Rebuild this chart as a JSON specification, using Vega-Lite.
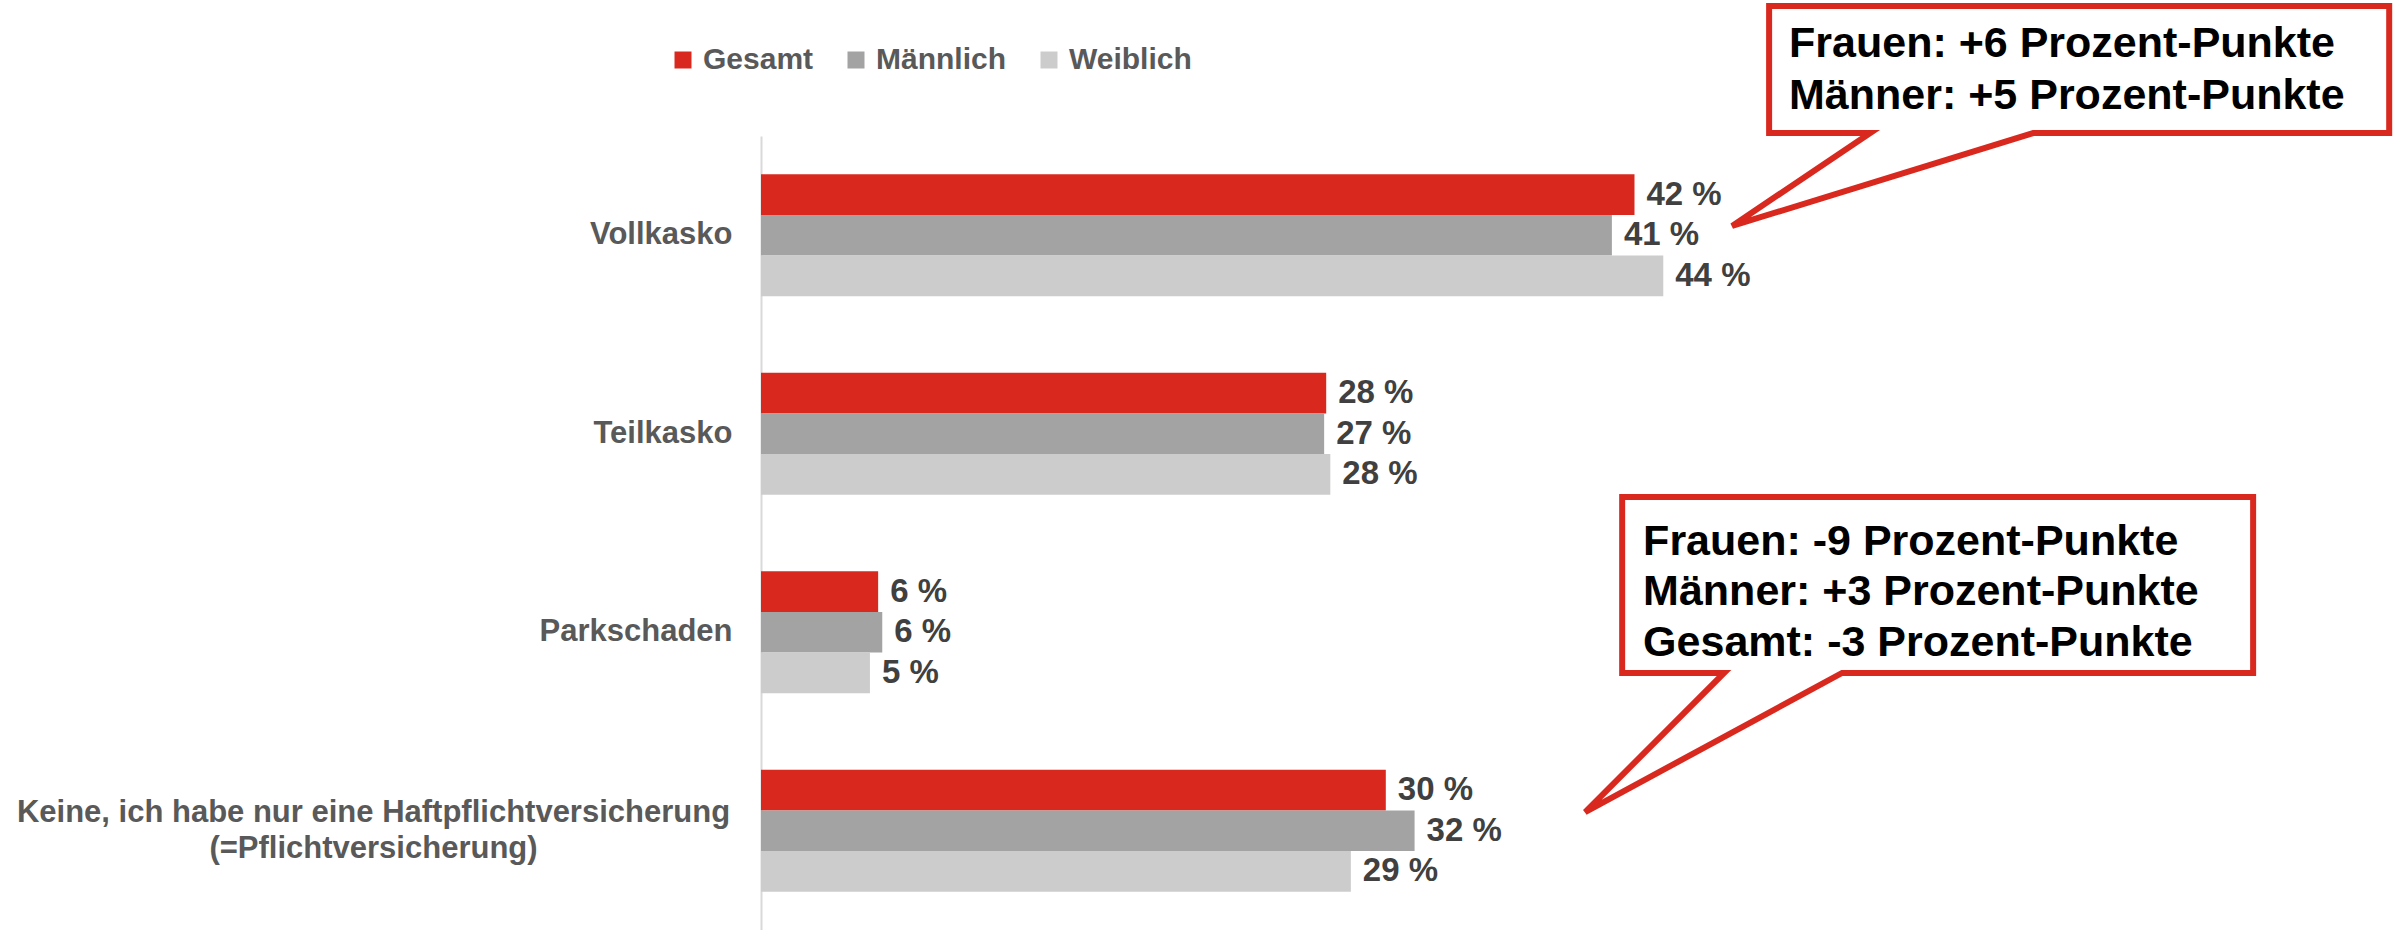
{
  "$schema": "https://vega.github.io/schema/vega-lite/v6.json",
  "autosize": {"type": "none"},
  "width": 1636,
  "height": 794,
  "padding": {"left": 761, "top": 136, "right": 0, "bottom": 0},
  "background": "white",
  "config": {"view": {"stroke": null}, "font": "Liberation Sans"},
  "datasets": {
    "bars": [
      {"category": "Vollkasko", "series": "Gesamt", "value": 42.5, "label": "42 %"},
      {"category": "Vollkasko", "series": "Männlich", "value": 41.4, "label": "41 %"},
      {"category": "Vollkasko", "series": "Weiblich", "value": 43.9, "label": "44 %"},
      {"category": "Teilkasko", "series": "Gesamt", "value": 27.5, "label": "28 %"},
      {"category": "Teilkasko", "series": "Männlich", "value": 27.4, "label": "27 %"},
      {"category": "Teilkasko", "series": "Weiblich", "value": 27.7, "label": "28 %"},
      {"category": "Parkschaden", "series": "Gesamt", "value": 5.7, "label": "6 %"},
      {"category": "Parkschaden", "series": "Männlich", "value": 5.9, "label": "6 %"},
      {"category": "Parkschaden", "series": "Weiblich", "value": 5.3, "label": "5 %"},
      {"category": "Keine, ich habe nur eine Haftpflichtversicherung (=Pflichtversicherung)", "series": "Gesamt", "value": 30.4, "label": "30 %"},
      {"category": "Keine, ich habe nur eine Haftpflichtversicherung (=Pflichtversicherung)", "series": "Männlich", "value": 31.8, "label": "32 %"},
      {"category": "Keine, ich habe nur eine Haftpflichtversicherung (=Pflichtversicherung)", "series": "Weiblich", "value": 28.7, "label": "29 %"}
    ],
    "callouts": [
      {"id": "c1", "ord": 1, "ax": 49.05, "ay": -0.655},
      {"id": "c1", "ord": 2, "ax": 79.22, "ay": -0.655},
      {"id": "c1", "ord": 3, "ax": 79.22, "ay": -0.015},
      {"id": "c1", "ord": 4, "ax": 61.9, "ay": -0.015},
      {"id": "c1", "ord": 5, "ax": 47.25, "ay": 0.453},
      {"id": "c1", "ord": 6, "ax": 53.97, "ay": -0.015},
      {"id": "c1", "ord": 7, "ax": 49.05, "ay": -0.015},
      {"id": "c1", "ord": 8, "ax": 49.05, "ay": -0.655},
      {"id": "c2", "ord": 1, "ax": 41.9, "ay": 1.819},
      {"id": "c2", "ord": 2, "ax": 72.6, "ay": 1.819},
      {"id": "c2", "ord": 3, "ax": 72.6, "ay": 2.705},
      {"id": "c2", "ord": 4, "ax": 52.6, "ay": 2.705},
      {"id": "c2", "ord": 5, "ax": 40.1, "ay": 3.406},
      {"id": "c2", "ord": 6, "ax": 46.86, "ay": 2.705},
      {"id": "c2", "ord": 7, "ax": 41.9, "ay": 2.705},
      {"id": "c2", "ord": 8, "ax": 41.9, "ay": 1.819}
    ],
    "callouttext": [
      {"text": "Frauen: +6 Prozent-Punkte", "ax": 50.02, "ay": -0.398},
      {"text": "Männer: +5 Prozent-Punkte", "ax": 50.02, "ay": -0.136},
      {"text": "Frauen: -9 Prozent-Punkte", "ax": 42.92, "ay": 2.111},
      {"text": "Männer: +3 Prozent-Punkte", "ax": 42.92, "ay": 2.363},
      {"text": "Gesamt: -3 Prozent-Punkte", "ax": 42.92, "ay": 2.62}
    ]
  },
  "layer": [
    {
      "data": {"name": "bars"},
      "encoding": {
        "y": {
          "field": "category",
          "type": "nominal",
          "sort": null,
          "title": null,
          "scale": {"paddingInner": 0.385, "paddingOuter": 0.1925},
          "axis": {
            "domain": true,
            "domainColor": "#D9D9D9",
            "domainWidth": 2,
            "ticks": false,
            "grid": false,
            "labelFont": "Liberation Sans",
            "labelFontSize": 31,
            "labelFontWeight": "bold",
            "labelColor": "#595959",
            "labelLimit": 1000,
            "labelOverlap": false,
            "labelLineHeight": 36,
            "labelAlign": {"condition": {"test": "indexof(datum.value, 'Keine') == 0", "value": "center"}, "value": "right"},
            "labelPadding": {"condition": {"test": "indexof(datum.value, 'Keine') == 0", "value": 388}, "value": 29},
            "labelOffset": {"condition": {"test": "indexof(datum.value, 'Keine') == 0", "value": -18}, "value": 0},
            "labelExpr": "indexof(datum.value, 'Keine') == 0 ? ['Keine, ich habe nur eine Haftpflichtversicherung', '(=Pflichtversicherung)'] : datum.label"
          }
        },
        "yOffset": {
          "field": "series",
          "type": "nominal",
          "sort": ["Gesamt", "Männlich", "Weiblich"],
          "scale": {"paddingInner": 0, "paddingOuter": 0}
        },
        "x": {
          "field": "value",
          "type": "quantitative",
          "axis": null,
          "scale": {"domain": [0, 79.6], "nice": false, "zero": true}
        }
      },
      "layer": [
        {
          "mark": {"type": "bar"},
          "encoding": {
            "color": {
              "field": "series",
              "type": "nominal",
              "sort": ["Gesamt", "Männlich", "Weiblich"],
              "scale": {"domain": ["Gesamt", "Männlich", "Weiblich"], "range": ["#D9291F", "#A3A3A3", "#CCCCCC"]},
              "legend": {
                "title": null,
                "orient": "none",
                "direction": "horizontal",
                "legendX": -93,
                "legendY": -91,
                "padding": 0,
                "symbolType": "square",
                "symbolSize": 289,
                "symbolStrokeWidth": 0,
                "symbolOpacity": 1,
                "labelFont": "Liberation Sans",
                "labelFontSize": 30,
                "labelFontWeight": "bold",
                "labelColor": "#595959",
                "labelOffset": 5,
                "labelLimit": 400,
                "columnPadding": 27
              }
            }
          }
        },
        {
          "mark": {"type": "text", "align": "left", "baseline": "middle", "dx": 12, "font": "Liberation Sans", "fontSize": 33, "fontWeight": "bold", "color": "#404040"},
          "encoding": {"text": {"field": "label"}}
        }
      ]
    },
    {
      "encoding": {
        "x": {"field": "ax", "type": "quantitative", "axis": null},
        "y": {"field": "ay", "type": "quantitative", "axis": null, "scale": {"domain": [0, 4], "reverse": true, "nice": false, "zero": false}}
      },
      "layer": [
        {
          "data": {"name": "callouts"},
          "mark": {"type": "line", "color": "#D9291F", "strokeWidth": 6, "strokeJoin": "miter", "strokeCap": "square"},
          "encoding": {
            "detail": {"field": "id"},
            "order": {"field": "ord", "type": "quantitative"}
          }
        },
        {
          "data": {"name": "callouttext"},
          "mark": {"type": "text", "align": "left", "baseline": "alphabetic", "font": "Liberation Sans", "fontSize": 43, "fontWeight": "bold", "color": "#000000"},
          "encoding": {"text": {"field": "text"}}
        }
      ]
    }
  ],
  "resolve": {"scale": {"y": "independent"}}
}
